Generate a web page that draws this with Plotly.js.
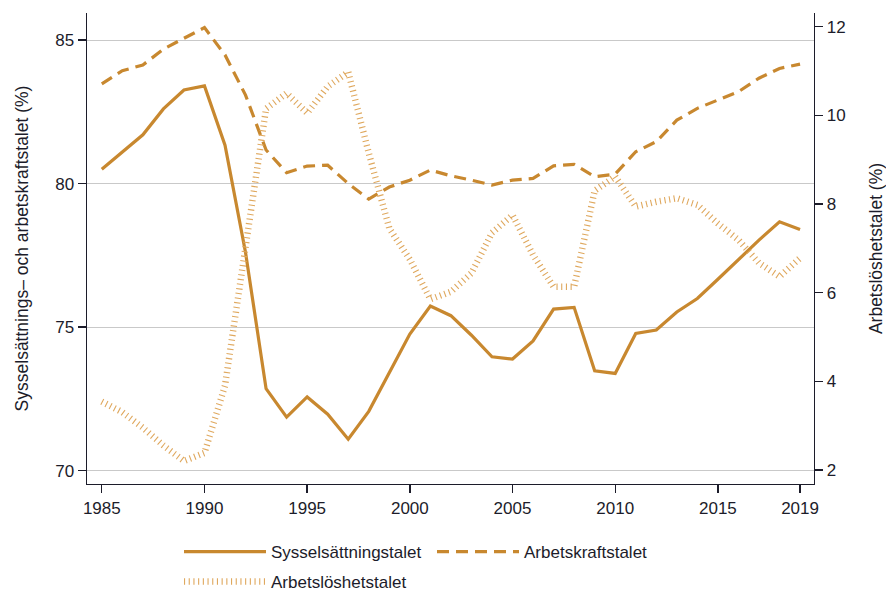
<!DOCTYPE html>
<html>
<head>
<meta charset="utf-8">
<script src="https://cdn.plot.ly/plotly-3.0.1.min.js"></script>
<style>html,body{margin:0;padding:0;background:#fff;}#chart{width:886px;height:592px;}</style>
</head>
<body>
<div id="chart"></div>
<script>
const years = [1985,1986,1987,1988,1989,1990,1991,1992,1993,1994,1995,1996,1997,1998,1999,2000,2001,2002,2003,2004,2005,2006,2007,2008,2009,2010,2011,2012,2013,2014,2015,2016,2017,2018,2019];
const sysselsattning = [80.5,81.1,81.7,82.6,83.26,83.4,81.34,77.6,72.86,71.87,72.57,71.97,71.1,72.07,73.44,74.76,75.74,75.4,74.72,73.97,73.89,74.52,75.63,75.69,73.48,73.39,74.78,74.9,75.53,76.0,76.67,77.35,78.03,78.67,78.4];
const arbetskraft = [83.47,83.93,84.13,84.68,85.06,85.43,84.48,83.08,81.17,80.38,80.61,80.64,80.0,79.46,79.88,80.12,80.47,80.27,80.12,79.95,80.12,80.18,80.62,80.67,80.24,80.33,81.11,81.46,82.21,82.62,82.91,83.2,83.67,84.01,84.16];
const arbetsloshet = [3.54,3.3,2.95,2.55,2.2,2.38,3.9,6.96,10.15,10.5,10.05,10.65,10.98,9.15,7.45,6.75,5.85,6.02,6.44,7.35,7.75,6.85,6.13,6.13,8.3,8.62,7.94,8.05,8.13,7.98,7.56,7.19,6.67,6.36,6.78];
const xTicks = [1985,1990,1995,2000,2005,2010,2015,2019];
const yLeftTicks = [70,75,80,85];
const yRightTicks = [2,4,6,8,10,12];
const names = ['Sysselsättningstalet','Arbetskraftstalet','Arbetslöshetstalet'];

const gold = '#c8882f';
const ink = '#1c1c2a';
const fontFam = 'Liberation Sans, Arial, sans-serif';

const traces = [
  {x: years, y: sysselsattning, name: names[0], type: 'scatter', mode: 'lines',
   line: {color: gold, width: 3.2}, legend: 'legend'},
  {x: years, y: arbetskraft, name: names[1], type: 'scatter', mode: 'lines',
   line: {color: gold, width: 3.2, dash: '12px,7px'}, legend: 'legend'},
  {x: years, y: arbetsloshet, name: names[2], type: 'scatter', mode: 'lines', yaxis: 'y2',
   line: {color: '#dfa85e', width: 6.5, dash: '1.1px,3.6px'}, legend: 'legend2'}
];

const layout = {
  width: 886, height: 592,
  margin: {l: 87, r: 72, t: 13, b: 108},
  paper_bgcolor: '#fff', plot_bgcolor: '#fff',
  font: {family: fontFam, color: ink, size: 17},
  showlegend: true,
  xaxis: {
    range: [1984.28, 2019.68], tickvals: xTicks, ticktext: xTicks.map(String),
    showgrid: false, zeroline: false, showline: true, linecolor: ink, linewidth: 1.4,
    ticks: 'outside', ticklen: 8, tickwidth: 1.4, tickcolor: ink,
    tickfont: {size: 17, color: ink}
  },
  yaxis: {
    range: [69.54, 85.94], tickvals: yLeftTicks,
    showgrid: true, gridcolor: '#c9c9c9', gridwidth: 1, zeroline: false,
    showline: true, linecolor: ink, linewidth: 1.4,
    ticks: 'outside', ticklen: 8, tickwidth: 1.4, tickcolor: ink,
    tickfont: {size: 17, color: ink},
    title: {text: 'Sysselsättnings– och arbetskraftstalet (%)', font: {size: 17.5, color: ink}, standoff: 22}
  },
  yaxis2: {
    range: [1.68, 12.31], tickvals: yRightTicks, overlaying: 'y', side: 'right',
    showgrid: false, zeroline: false, showline: true, linecolor: ink, linewidth: 1.4,
    ticks: 'outside', ticklen: 8, tickwidth: 1.4, tickcolor: ink,
    tickfont: {size: 17, color: ink},
    title: {text: 'Arbetslöshetstalet (%)', font: {size: 17.5, color: ink}, standoff: 26}
  },
  legend: {
    orientation: 'h', xref: 'container', yref: 'container',
    x: 179/886, y: 1 - 552/592, xanchor: 'left', yanchor: 'middle',
    itemwidth: 82, entrywidth: 156, entrywidthmode: 'pixels',
    font: {size: 17, color: ink}, bgcolor: 'rgba(0,0,0,0)', borderwidth: 0, itemclick: false
  },
  legend2: {
    orientation: 'h', xref: 'container', yref: 'container',
    x: 179/886, y: 1 - 582/592, xanchor: 'left', yanchor: 'middle',
    itemwidth: 82,
    font: {size: 17, color: ink}, bgcolor: 'rgba(0,0,0,0)', borderwidth: 0, itemclick: false
  }
};

Plotly.newPlot('chart', traces, layout, {displayModeBar: false, staticPlot: true});
</script>
</body>
</html>
